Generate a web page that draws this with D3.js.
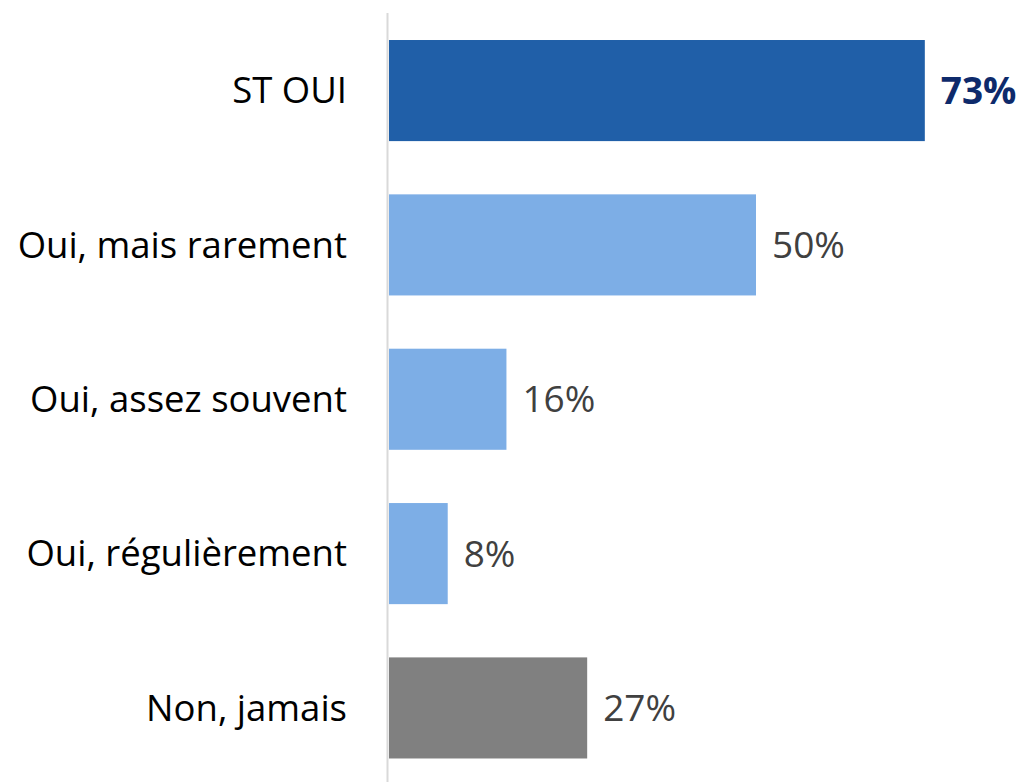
<!DOCTYPE html>
<html>
<head>
<meta charset="utf-8">
<script src="https://cdn.jsdelivr.net/npm/d3@7"></script>
<style>
  body { margin: 0; background: #fff; }
  svg text { font-family: "Open Sans", Lato, sans-serif; }
</style>
</head>
<body>
<svg id="chart" width="1022" height="782"></svg>
<script>
const categories = ["ST OUI", "Oui, mais rarement", "Oui, assez souvent", "Oui, régulièrement", "Non, jamais"];
const values = [73, 50, 16, 8, 27];
const barColors = ["#205fa8", "#7daee6", "#7daee6", "#7daee6", "#808080"];

const svg = d3.select("#chart");

// plot area
const plotLeft = 389, plotTop = 13, plotBottom = 782;

// ~7.34 px per percent
let x = d3.scaleLinear().domain([0, 100]).range([plotLeft, plotLeft + 734]);

let y = d3.scaleBand()
    .domain(categories)
    .range([plotTop, plotTop + 154.5 * categories.length])
    .paddingInner(0.345)
    .paddingOuter(0.175);

svg.selectAll("rect.bar")
    .data(values)
    .enter()
    .append("rect")
    .attr("class", "bar")
    .attr("x", x(0))
    .attr("y", (d, i) => y(categories[i]))
    .attr("width", d => x(d) - x(0))
    .attr("height", y.bandwidth())
    .attr("fill", (d, i) => barColors[i]);

// vertical axis line
svg.append("line")
    .attr("x1", plotLeft - 1.5).attr("x2", plotLeft - 1.5)
    .attr("y1", plotTop).attr("y2", plotBottom)
    .attr("stroke", "#d9d9d9")
    .attr("stroke-width", 2);

// category labels
svg.selectAll("text.cat")
    .data(categories)
    .enter()
    .append("text")
    .attr("class", "cat")
    .attr("x", 347)
    .attr("y", d => y(d) + y.bandwidth() / 2)
    .attr("dy", "0.35em")
    .attr("text-anchor", "end")
    .attr("font-size", 36.5)
    .attr("fill", "#000")
    .text(d => d);

// value labels
svg.selectAll("text.val")
    .data(values)
    .enter()
    .append("text")
    .attr("class", "val")
    .attr("x", d => x(d) + 16)
    .attr("y", (d, i) => y(categories[i]) + y.bandwidth() / 2)
    .attr("dy", "0.35em")
    .attr("font-size", 37)
    .attr("font-weight", (d, i) => i === 0 ? "bold" : "normal")
    .attr("fill", (d, i) => i === 0 ? "#0e2a6b" : "#404040")
    .text(d => d + "%");
</script>
</body>
</html>
